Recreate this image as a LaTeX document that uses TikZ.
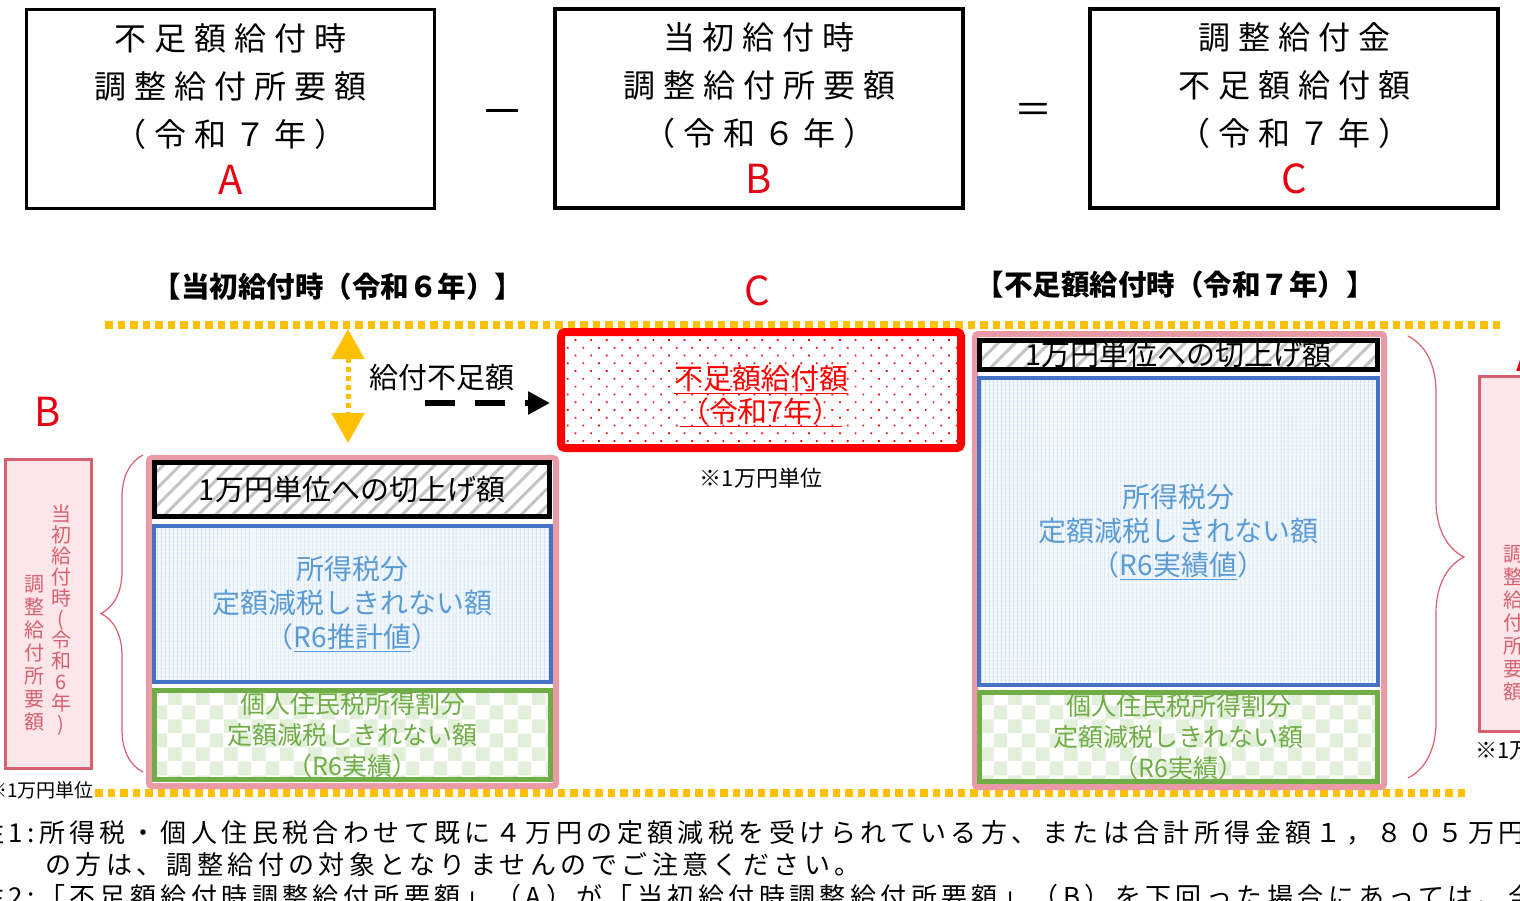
\documentclass[tikz,border=0pt]{standalone}
\usepackage{fontspec}
\setmainfont{Noto Sans CJK JP}
\newfontfamily\widefont[LetterSpace=25]{Noto Sans CJK JP}
\newfontfamily\notefont[LetterSpace=17]{Noto Sans CJK JP}
\usetikzlibrary{
    arrows.meta,
    positioning,
    calc,
    patterns.meta,
    decorations.pathreplacing,
}

\definecolor{gold}{HTML}{FFC000}
\definecolor{labelred}{HTML}{E60012}
\definecolor{stackpink}{HTML}{EA9AA4}
\definecolor{hatchgray}{HTML}{C4C4C4}
\definecolor{incomeblue}{HTML}{4472C4}
\definecolor{incomefill}{HTML}{F3F8FD}
\definecolor{incomeline}{HTML}{C9DDF2}
\definecolor{incometext}{HTML}{5B9BD5}
\definecolor{residentgreen}{HTML}{70AD47}
\definecolor{residentfill}{HTML}{E2EFDA}
\definecolor{totalrose}{HTML}{D6606E}
\definecolor{totalfill}{HTML}{FCE6EA}

\tikzdeclarepattern{
    name=checker,
    type=uncolored,
    bottom left={(0pt,0pt)},
    top right={(28pt,28pt)},
    tile size={(28pt,28pt)},
    code={
        \fill (0pt,0pt) rectangle (14pt,14pt);
        \fill (14pt,14pt) rectangle (28pt,28pt);
    }
}

\begin{document}
\begin{tikzpicture}[
    x=1pt, y=-1pt,
    formula/.style={draw=black, line width=3.5pt, minimum width=408pt, minimum height=199pt,
                align=center, inner sep=0pt, font=\widefont\fontsize{32}{48}\selectfont},
    op/.style={inner sep=0pt, font=\fontsize{44}{44}\selectfont},
    letter/.style={text=labelred, inner sep=0pt, font=\fontsize{40}{40}\selectfont},
    heading/.style={inner sep=0pt, font=\bfseries\fontsize{28.5}{33}\selectfont},
    goldline/.style={draw=gold, line width=7.5pt, dash pattern=on 7.5pt off 5pt},
    stack/.style={draw=stackpink, line width=6pt, rounded corners=3pt, fill=white},
    roundup/.style={draw=black, line width=5pt, preaction={fill=white},
                pattern={Lines[angle=45, distance=12pt, line width=3pt]}, pattern color=hatchgray,
                inner sep=0pt, font=\fontsize{29}{34}\selectfont},
    income/.style={draw=incomeblue, line width=4pt, preaction={fill=incomefill},
                pattern={Lines[angle=90, distance=4pt, line width=1pt]}, pattern color=incomeline,
                align=center, inner sep=0pt, text=incometext, font=\fontsize{28}{34}\selectfont},
    resident/.style={draw=residentgreen, line width=5pt, preaction={fill=white},
                pattern=checker, pattern color=residentfill,
                align=center, inner sep=0pt, text=residentgreen, font=\fontsize{25}{31}\selectfont},
    needbox/.style={draw=red, line width=8pt, rounded corners=4pt, preaction={fill=white},
                pattern={Dots[distance=11pt, radius=1.2pt, angle=45]}, pattern color=red},
    needtext/.style={align=center, inner sep=0pt, text=red, font=\fontsize{29}{33}\selectfont},
    gaparrow/.style={draw=gold, line width=5pt, dash pattern=on 5pt off 4pt,
                >={Triangle[width=32pt,length=30pt]}, <->},
    needarrow/.style={draw=black, line width=6pt, dash pattern=on 30pt off 20pt,
                -{Triangle[width=22pt,length=22pt]}, shorten >=7pt},
    gaplabel/.style={inner sep=0pt, font=\fontsize{29}{29}\selectfont},
    totalbox/.style={draw=totalrose, line width=3pt, fill=totalfill},
    vcol/.style={align=center, inner sep=0pt, text=totalrose},
    sidebrace/.style={draw=totalrose, line width=1.2pt, decorate, decoration={brace}},
    unit/.style={inner sep=0pt, font=\fontsize{22}{22}\selectfont},
    note/.style={inner sep=0pt, anchor=west, font=\notefont\fontsize{26}{26}\selectfont},
]
\useasboundingbox (0,0) rectangle (1520,900);
\clip (0,0) rectangle (1520,900);
\fill[white] (0,0) rectangle (1520,900);

% A - B = C
\node[formula] (shortA) at (230.5,109) {不足額給付時\\調整給付所要額\\（令和７年）\\{\fontsize{40}{48}\selectfont\color{labelred}A}};
\node[op] (minusSign) at (502,118) {－};
\node[formula] (initB) at (759,108.5) {当初給付時\\調整給付所要額\\（令和６年）\\{\fontsize{40}{48}\selectfont\color{labelred}B}};
\node[op, font=\fontsize{38}{38}\selectfont] (equalSign) at (1033,113) {＝};
\node[formula] (resultC) at (1294,108.5) {調整給付金\\不足額給付額\\（令和７年）\\{\fontsize{40}{48}\selectfont\color{labelred}C}};

% dotted guides
\coordinate (guideTL) at (105,325);
\coordinate (guideTR) at (1500,325);
\coordinate (guideBL) at (95,793);
\coordinate (guideBR) at (1465,793);
\draw[goldline] (guideTL) -- (guideTR);
\draw[goldline] (guideBL) -- (guideBR);

\node[heading] (initHead) at (338,287) {【当初給付時（令和６年）】};
\node[heading] (lastHead) at (1175,285) {【不足額給付時（令和７年）】};
\node[letter] (cMark) at (757,291) {C};

% initial payment (R6)
\node[stack, minimum width=407pt, minimum height=328pt] (initStack) at (352.5,622) {};
\node[roundup, minimum width=395pt, minimum height=54pt] (initRound) at (352,489.5) {1万円単位への切上げ額};
\node[income, minimum width=397pt, minimum height=156pt] (initIncome) at (352.5,604) {所得税分\\定額減税しきれない額\\（\underline{R6推計値}）};
\node[resident, minimum width=396pt, minimum height=89pt] (initResident) at (352.5,735) {個人住民税所得割分\\定額減税しきれない額\\（R6実績）};

% shortfall payment (R7)
\node[stack, minimum width=409pt, minimum height=453pt] (lastStack) at (1179.5,560.5) {};
\node[roundup, minimum width=398pt, minimum height=29pt] (lastRound) at (1178.5,355) {1万円単位への切上げ額};
\node[income, minimum width=399pt, minimum height=307pt] (lastIncome) at (1178.5,531.5) {所得税分\\定額減税しきれない額\\（\underline{R6実績値}）};
\node[resident, minimum width=398pt, minimum height=89pt] (lastResident) at (1178.5,737) {個人住民税所得割分\\定額減税しきれない額\\（R6実績）};

% C
\node[needbox, minimum width=400pt, minimum height=116pt] (cNeed) at (761,390) {};
\node[needtext] (cNeedText) at (761,396) {\underline{不足額給付額}\\\underline{（令和7年）}};
\node[unit, below=16pt of cNeed] (cUnit) {※1万円単位};

\coordinate (gapTop) at (348,329);
\coordinate (gapBot) at (348,443);
\draw[gaparrow] (gapTop) -- (gapBot);
\node[gaplabel] (gapText) at (442,378) {給付不足額};
\coordinate (needStart) at (425,403);
\draw[needarrow] (needStart) -- (needStart -| cNeed.west);

% braces and totals
\coordinate (initBraceTop) at (143,455);
\coordinate (initBraceBot) at (143,772);
\draw[sidebrace, decoration={amplitude=42pt}] (initBraceBot) -- (initBraceTop);
\coordinate (lastBraceTop) at (1408,336);
\coordinate (lastBraceBot) at (1408,778);
\draw[sidebrace, decoration={amplitude=56pt}] (lastBraceTop) -- (lastBraceBot);

\node[totalbox, minimum width=86pt, minimum height=309pt] (initTotal) at (48.5,614) {};
\node[vcol, font=\fontsize{20}{21}\selectfont] (initTotalA) at (61,620) {当\\初\\給\\付\\時\\(\\令\\和\\6\\年\\)};
\node[vcol, font=\fontsize{20}{23}\selectfont] (initTotalB) at (34,653) {調\\整\\給\\付\\所\\要\\額};
\node[letter] (bMark) at (48,412) {B};
\node[unit, anchor=east, font=\fontsize{19}{19}\selectfont] (initUnit) at (94,790) {※1万円単位};

\node[totalbox, minimum width=86pt, minimum height=355pt] (lastTotal) at (1522.5,554) {};
\node[vcol, font=\fontsize{20}{23}\selectfont] (lastTotalB) at (1513,623) {調\\整\\給\\付\\所\\要\\額};
\node[letter] (aMark) at (1529,357) {A};
\node[unit, anchor=west] (lastUnit) at (1475,750) {※1万円単位};

% notes
\node[note] (note1) at (-22,833) {注1:所得税・個人住民税合わせて既に４万円の定額減税を受けられている方、または合計所得金額１，８０５万円};
\node[note] (note1b) at (45,865) {の方は、調整給付の対象となりませんのでご注意ください。};
\node[note] (note2) at (-22,897) {注2:「不足額給付時調整給付所要額」（A）が「当初給付時調整給付所要額」（B）を下回った場合にあっては、全};

\end{tikzpicture}
\end{document}
